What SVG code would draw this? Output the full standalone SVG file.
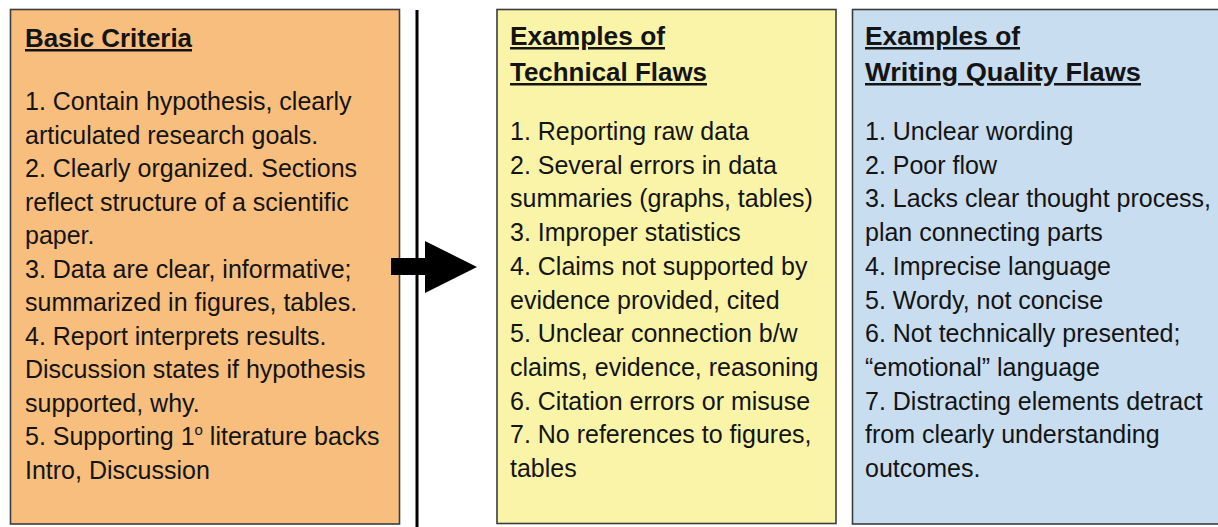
<svg xmlns="http://www.w3.org/2000/svg" width="1218" height="527" viewBox="0 0 1218 527">
<style>
  .box { stroke: #3c3c3c; stroke-width: 1.6; }
  .t { font-family: "Liberation Sans", Arial, sans-serif; font-size: 25px; fill: #141414; }
  .h { font-weight: bold; text-decoration: underline; }
</style>
<rect width="1218" height="527" fill="#ffffff"/>

<g id="node-basic-criteria">
  <rect class="box" x="10.5" y="9.5" width="389" height="514.5" fill="#F8BE7D"/>
  <text class="t h" x="25" y="47" textLength="167" lengthAdjust="spacingAndGlyphs">Basic Criteria</text>
  <text class="t">
    <tspan x="25" y="110">1. Contain hypothesis, clearly</tspan>
    <tspan x="25" y="143.5">articulated research goals.</tspan>
    <tspan x="25" y="177">2. Clearly organized. Sections</tspan>
    <tspan x="25" y="210.5">reflect structure of a scientific</tspan>
    <tspan x="25" y="244">paper.</tspan>
    <tspan x="25" y="277.5">3. Data are clear, informative;</tspan>
    <tspan x="25" y="311">summarized in figures, tables.</tspan>
    <tspan x="25" y="344.5">4. Report interprets results.</tspan>
    <tspan x="25" y="378">Discussion states if hypothesis</tspan>
    <tspan x="25" y="411.5">supported, why.</tspan>
    <tspan x="25" y="445">5. Supporting 1<tspan dy="-10" font-size="15">o</tspan><tspan dy="10"> literature backs</tspan></tspan>
    <tspan x="25" y="478.5">Intro, Discussion</tspan>
  </text>
</g>

<g id="node-technical-flaws">
  <rect class="box" x="497" y="9.5" width="339" height="514" fill="#FAF4A8"/>
  <text class="t h" x="510" y="45" textLength="155" lengthAdjust="spacingAndGlyphs">Examples of</text>
  <text class="t h" x="510" y="81" textLength="197" lengthAdjust="spacingAndGlyphs">Technical Flaws</text>
  <text class="t">
    <tspan x="510" y="140">1. Reporting raw data</tspan>
    <tspan x="510" y="173.7">2. Several errors in data</tspan>
    <tspan x="510" y="207.4">summaries (graphs, tables)</tspan>
    <tspan x="510" y="241.1">3. Improper statistics</tspan>
    <tspan x="510" y="274.8">4. Claims not supported by</tspan>
    <tspan x="510" y="308.5">evidence provided, cited</tspan>
    <tspan x="510" y="342.2">5. Unclear connection b/w</tspan>
    <tspan x="510" y="375.9">claims, evidence, reasoning</tspan>
    <tspan x="510" y="409.6">6. Citation errors or misuse</tspan>
    <tspan x="510" y="443.3">7. No references to figures,</tspan>
    <tspan x="510" y="477">tables</tspan>
  </text>
</g>

<g id="node-writing-quality-flaws">
  <rect class="box" x="852.5" y="9.5" width="380" height="514.5" fill="#C9DDF0"/>
  <text class="t h" x="865" y="45" textLength="155" lengthAdjust="spacingAndGlyphs">Examples of</text>
  <text class="t h" x="865" y="81" textLength="276" lengthAdjust="spacingAndGlyphs">Writing Quality Flaws</text>
  <text class="t">
    <tspan x="865" y="140">1. Unclear wording</tspan>
    <tspan x="865" y="173.7">2. Poor flow</tspan>
    <tspan x="865" y="207.4">3. Lacks clear thought process,</tspan>
    <tspan x="865" y="241.1">plan connecting parts</tspan>
    <tspan x="865" y="274.8">4. Imprecise language</tspan>
    <tspan x="865" y="308.5">5. Wordy, not concise</tspan>
    <tspan x="865" y="342.2">6. Not technically presented;</tspan>
    <tspan x="865" y="375.9">“emotional” language</tspan>
    <tspan x="865" y="409.6">7. Distracting elements detract</tspan>
    <tspan x="865" y="443.3">from clearly understanding</tspan>
    <tspan x="865" y="477">outcomes.</tspan>
  </text>
</g>

<g id="connectors">
  <line x1="417" y1="10" x2="417" y2="527" stroke="#000" stroke-width="3"/>
  <polygon points="391,258 425,258 425,241 477,267 425,293 425,275 391,275" fill="#000"/>
</g>
</svg>
